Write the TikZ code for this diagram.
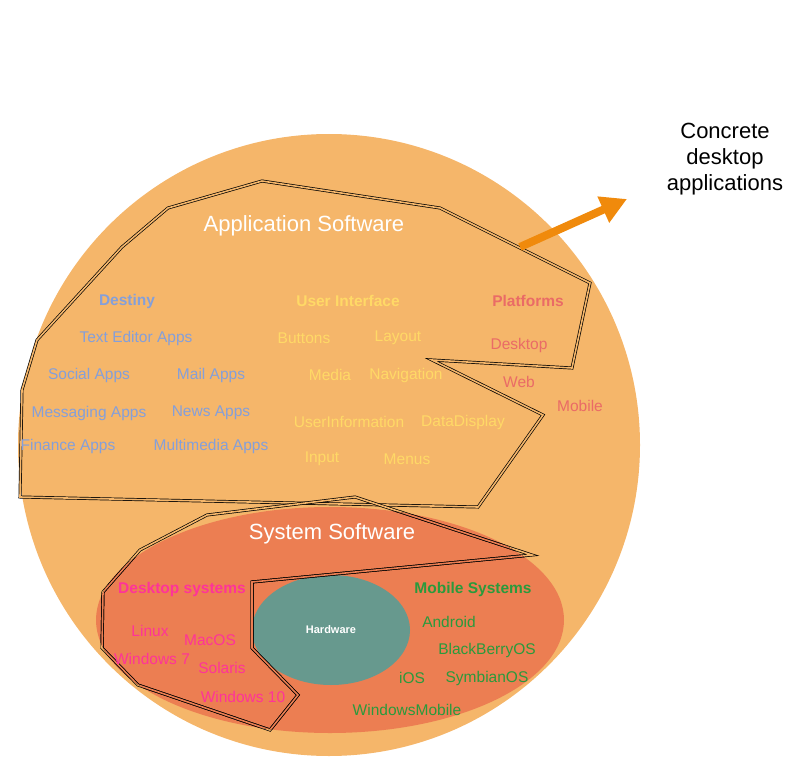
\documentclass[tikz,border=0pt]{standalone}
\usepackage{fontspec}
\setmainfont{Liberation Sans}
\usepackage{tikz}
\usetikzlibrary{arrows.meta,shapes.geometric}
\definecolor{appfill}{HTML}{F5B66A}
\definecolor{sysfill}{HTML}{EC7E52}
\definecolor{hwfill}{HTML}{67998E}
\definecolor{arrcol}{HTML}{F08A0C}
\definecolor{destcol}{HTML}{849FDA}
\definecolor{uicol}{HTML}{FFD966}
\definecolor{platcol}{HTML}{EA6B66}
\definecolor{deskcol}{HTML}{FF3399}
\definecolor{mobcol}{HTML}{2A9A3C}
\tikzstyle{lbl} = [inner sep=1pt, yshift=-2pt, font=\fontsize{15.5}{18}\selectfont]
\tikzstyle{head} = [inner sep=1pt, yshift=-2pt, font=\fontsize{15.5}{18}\selectfont\bfseries]
\tikzstyle{big} = [inner sep=1pt, yshift=-2.5pt, font=\fontsize{22}{26}\selectfont]
\tikzstyle{border} = [draw=black, line width=0.7pt, double distance=1.6pt, miter limit=6]
\tikzstyle{bigarrow} = [draw=arrcol, line width=8pt, -{Triangle[length=26pt, width=27pt]}]
\newcommand{\apppath}{(20,497) -- (22,390) -- (37,340) -- (122,247) -- (168,208) -- (262,181) -- (440,208) -- (590,283) -- (572,368) -- (432,360) -- (543,415) -- (478,507) -- cycle}
\newcommand{\syspath}{(355,497) -- (532,555) -- (252,582) -- (252,648) -- (298,695) -- (270,730) -- (138,685) -- (102,648) -- (103,592) -- (140,550) -- (207,515) -- cycle}

\begin{document}
\begin{tikzpicture}[x=1pt, y=-1pt]
        \useasboundingbox (0,0) rectangle (787,762);
        % sets
        \fill[appfill] (329,445) circle [radius=311pt];
        \fill[sysfill] (330,620) ellipse [x radius=234pt, y radius=113pt];
        \node (HW) [ellipse, minimum width=158pt, minimum height=110pt, fill=hwfill, text=white, font=\fontsize{11}{13}\selectfont\bfseries] at (331,630) {Hardware};

        % outlines
        \draw[border, double=appfill] \apppath;
        \draw[border, double=appfill] \syspath;
        \begin{scope}
            \clip (330,620) ellipse [x radius=234pt, y radius=113pt];
            \draw[border, double=sysfill] \apppath;
            \draw[border, double=sysfill] \syspath;
        \end{scope}

        \node (AppSw) [big, text=white] at (304,223) {Application Software};
        \node (SysSw) [big, text=white] at (332,531) {System Software};

        % destiny
        \node (Destiny) [head, text=destcol] at (127,299) {Destiny};
        \node (TextEd) [lbl, text=destcol] at (136,336) {Text Editor Apps};
        \node (Social) [lbl, text=destcol] at (89,373) {Social Apps};
        \node (Mail) [lbl, text=destcol] at (211,373) {Mail Apps};
        \node (Msg) [lbl, text=destcol] at (89,411) {Messaging Apps};
        \node (News) [lbl, text=destcol] at (211,411) {News Apps};
        \node (Fin) [lbl, text=destcol] at (68,444) {Finance Apps};
        \node (Multi) [lbl, text=destcol] at (211,444) {Multimedia Apps};

        % user interface
        \node (UI) [head, text=uicol] at (348,299) {User Interface};
        \node (Btn) [lbl, text=uicol] at (304,336) {Buttons};
        \node (Lay) [lbl, text=uicol] at (398,336) {Layout};
        \node (Media) [lbl, text=uicol] at (330,373) {Media};
        \node (Nav) [lbl, text=uicol] at (406,373) {Navigation};
        \node (UInfo) [lbl, text=uicol] at (349,420) {UserInformation};
        \node (DData) [lbl, text=uicol] at (463,420) {DataDisplay};
        \node (Inp) [lbl, text=uicol] at (322,457) {Input};
        \node (Menu) [lbl, text=uicol] at (407,457) {Menus};

        % platforms
        \node (Plat) [head, text=platcol] at (528,299) {Platforms};
        \node (PDesk) [lbl, text=platcol] at (519,343) {Desktop};
        \node (PWeb) [lbl, text=platcol] at (519,380) {Web};
        \node (PMob) [lbl, text=platcol] at (580,404) {Mobile};

        % desktop systems
        \node (DeskSys) [head, text=deskcol] at (182,587) {Desktop systems};
        \node (Linux) [lbl, text=deskcol] at (150,629) {Linux};
        \node (Mac) [lbl, text=deskcol] at (210,638) {MacOS};
        \node (Win7) [lbl, text=deskcol] at (152,657) {Windows 7};
        \node (Sol) [lbl, text=deskcol] at (222,666) {Solaris};
        \node (Win10) [lbl, text=deskcol] at (243,695) {Windows 10};

        % mobile systems
        \node (MobSys) [head, text=mobcol] at (473,587) {Mobile Systems};
        \node (Andr) [lbl, text=mobcol] at (449,620) {Android};
        \node (BB) [lbl, text=mobcol] at (487,648) {BlackBerryOS};
        \node (iOS) [lbl, text=mobcol] at (412,676) {iOS};
        \node (Symb) [lbl, text=mobcol] at (487,676) {SymbianOS};
        \node (WinMob) [lbl, text=mobcol] at (407,708) {WindowsMobile};

        % concrete applications
        \node (Concr) [big, align=center] at (725,157) {Concrete\\desktop\\applications};
        \coordinate (ArrS) at (520,247);
        \coordinate (ArrE) at (627,199);
        \draw[bigarrow] (ArrS) -- (ArrE);
    \end{tikzpicture}
\end{document}
